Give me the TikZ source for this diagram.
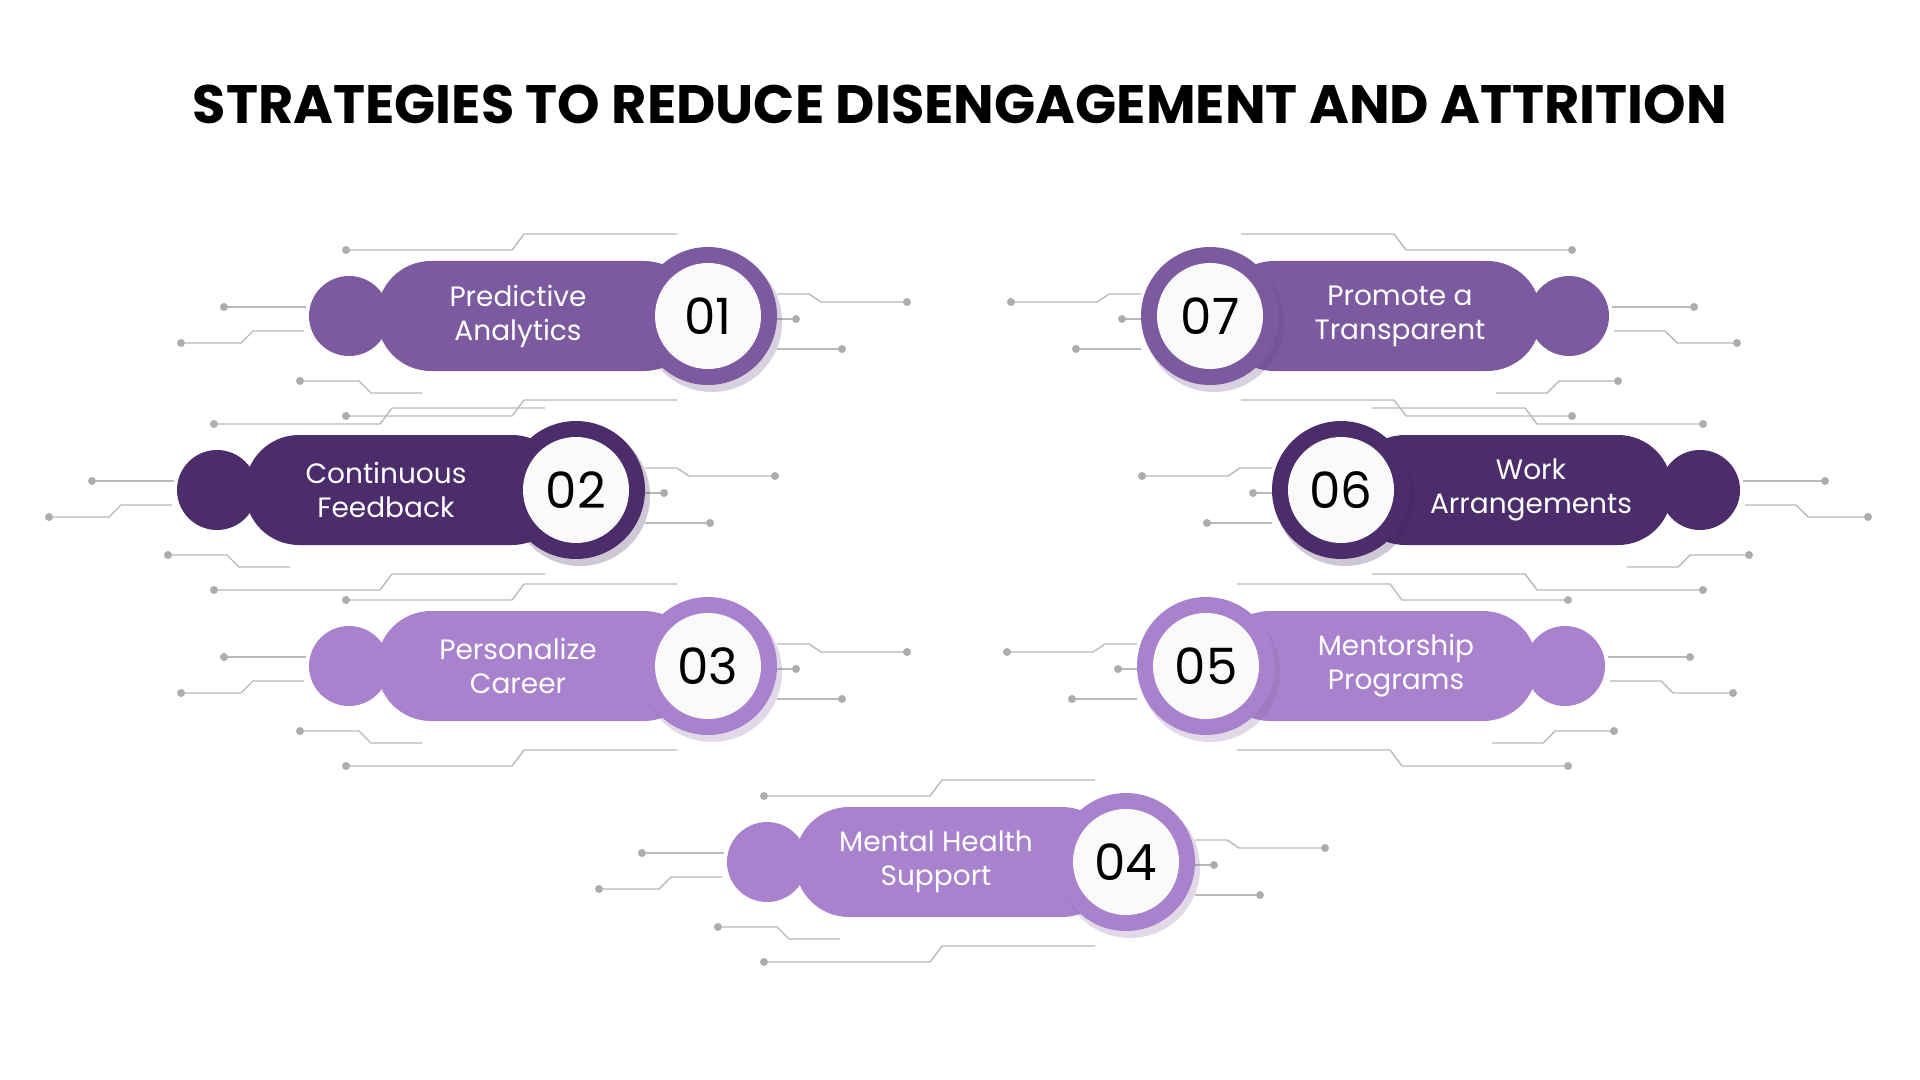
\documentclass[tikz,border=0pt]{standalone}
\usepackage{fontspec}
\setmainfont{Poppins}
\usetikzlibrary{calc}
\definecolor{StratMid}{RGB}{124,90,160}
\definecolor{StratDark}{RGB}{76,45,108}
\definecolor{StratLight}{RGB}{168,130,204}
\definecolor{TraceGray}{RGB}{185,185,185}
\tikzset{
  Trace/.style={draw=TraceGray, line width=0.7pt},
  Dot/.style={fill=TraceGray!80!gray},
  Zahl/.style={circle, fill=white!96!gray, minimum size=53pt, inner sep=0pt, font=\fontsize{25}{25}\selectfont},
  Etikett/.style={text=white, align=center, font=\fontsize{14}{17}\selectfont}
}
% decorative circuit traces, relative to the number circle
\newcommand{\traces}{%
\draw[Trace] (-362,-66) -- (-196,-66) -- (-184,-82) -- (-31,-82);
\fill[Dot] (-362,-66) circle (4);
\draw[Trace] (-484,-9) -- (-402,-9);
\fill[Dot] (-484,-9) circle (4);
\draw[Trace] (-527,27) -- (-467,27) -- (-455,15) -- (-404,15);
\fill[Dot] (-527,27) circle (4);
\draw[Trace] (-408,65) -- (-349,65) -- (-337,77) -- (-286,77);
\fill[Dot] (-408,65) circle (4);
\draw[Trace] (69,-22) -- (101,-22) -- (113,-14) -- (199,-14);
\fill[Dot] (199,-14) circle (4);
\draw[Trace] (69,3) -- (88,3);
\fill[Dot] (88,3) circle (4);
\draw[Trace] (69,33) -- (134,33);
\fill[Dot] (134,33) circle (4);
\draw[Trace] (-362,100) -- (-196,100) -- (-184,84) -- (-31,84);
\fill[Dot] (-362,100) circle (4);
}
% #1 name, #2 x, #3 y, #4 colour, #5 number, #6 text, #7 side (1 left, -1 right)
\newcommand{\strat}[7]{%
\begin{scope}[shift={(#2,#3)}, xscale=#7] \traces \end{scope}
\fill[#4] ($(#2,#3)+(-359*#7,0)$) circle (40);
\fill[#4, rounded corners=27pt] ($(#2,#3)+(-331*#7,-55)$) rectangle ($(#2,#3)+(-10*#7,55)$);
\fill[#4!80!black, opacity=0.25] ($(#2,#3)+(4,6)$) circle (70);
\fill[#4] (#2,#3) circle (69);
\node[Zahl] (#1) at (#2,#3) {#5};
\node[Etikett] (#1t) at ($(#2,#3)+(-190*#7,0)$) {#6};
}
\begin{document}
\begin{tikzpicture}[x=0.5pt, y=-0.5pt]
\useasboundingbox (0,0) rectangle (1920,1080);
\node (titel) at (960,104) {\resizebox{767pt}{!}{\bfseries STRATEGIES TO REDUCE DISENGAGEMENT AND ATTRITION}};
\strat{s1}{708}{316}{StratMid}{01}{Predictive\\Analytics}{1}
\strat{s2}{576}{490}{StratDark}{02}{Continuous\\Feedback}{1}
\strat{s3}{708}{666}{StratLight}{03}{Personalize\\Career}{1}
\strat{s4}{1126}{862}{StratLight}{04}{Mental Health\\Support}{1}
\strat{s7}{1210}{316}{StratMid}{07}{Promote a\\Transparent}{-1}
\strat{s6}{1341}{490}{StratDark}{06}{Work\\Arrangements}{-1}
\strat{s5}{1206}{666}{StratLight}{05}{Mentorship\\Programs}{-1}
\end{tikzpicture}
\end{document}
